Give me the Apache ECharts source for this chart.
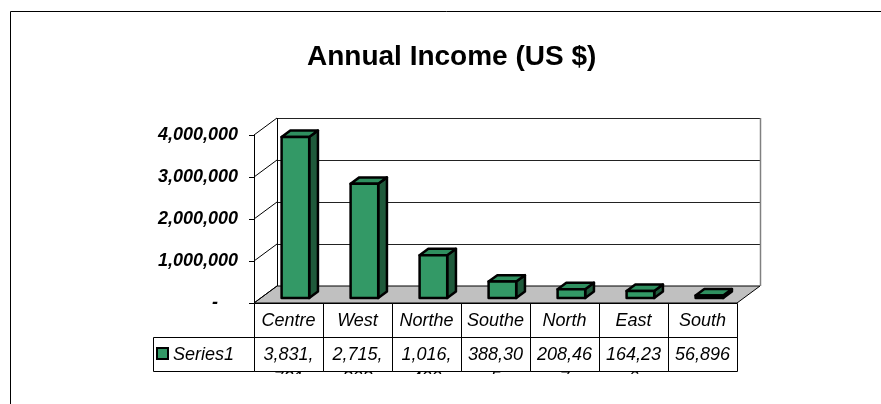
<!DOCTYPE html>
<html>
<head>
<meta charset="utf-8">
<script src="https://cdn.jsdelivr.net/npm/echarts@6/dist/echarts.min.js"></script>
<style>
  html, body { margin: 0; padding: 0; background: #fff; }
  #chart { width: 881px; height: 404px; }
</style>
</head>
<body>
<div id="chart"></div>
<script>
const categories = ['Centre', 'West', 'Northeast', 'Southeast', 'North', 'East', 'South'];
const income = [3831731, 2715808, 1016400, 388305, 208467, 164236, 56896];
const yTicks = [0, 1000000, 2000000, 3000000, 4000000];
const seriesName = 'Series1';

// depth of the 3d box, and where the bars sit inside it
const DX = 23, DY = -17;
const BAR_FRONT = 0.3, BAR_BACK = 0.68, BAR_WIDTH = 0.4;
const ROW = 34;
const FONT = '"Liberation Sans", Arial, sans-serif';
const GREEN = '#339966', GREEN_TOP = '#2f8f5f', GREEN_SIDE = '#1f5a3b';

const chart = echarts.init(document.getElementById('chart'));

function px(v) {
  return Math.round(v) + 0.5;
}

function wallItem(params, api) {
  const cs = params.coordSys;
  const x0 = cs.x, x1 = cs.x + cs.width;
  const y0 = api.coord([0, 0])[1];
  const yTop = api.coord([0, yTicks[yTicks.length - 1]])[1];
  const children = [];
  children.push({
    type: 'polygon',
    shape: { points: [[x0, y0], [x1, y0], [x1 + DX, y0 + DY], [x0 + DX, y0 + DY]] },
    style: { fill: '#c0c0c0', stroke: '#000', lineWidth: 1 }
  });
  yTicks.forEach(t => {
    const y = api.coord([0, t])[1];
    if (t > 0) {
      children.push({
        type: 'line',
        shape: { x1: x0 + DX, y1: px(y + DY), x2: x1 + DX, y2: px(y + DY) },
        style: { stroke: '#222', lineWidth: 1 }
      });
    }
    children.push({
      type: 'line',
      shape: { x1: x0, y1: y, x2: x0 + DX, y2: y + DY },
      style: { stroke: '#000', lineWidth: 1 }
    });
  });
  children.push({
    type: 'line',
    shape: { x1: px(x0 + DX), y1: yTop + DY, x2: px(x0 + DX), y2: y0 + DY },
    style: { stroke: '#000', lineWidth: 1 }
  });
  children.push({
    type: 'line',
    shape: { x1: px(x1 + DX), y1: yTop + DY, x2: px(x1 + DX), y2: y0 + DY },
    style: { stroke: '#808080', lineWidth: 1.5 }
  });
  return { type: 'group', children };
}

function barItem(params, api) {
  const i = api.value(0), v = api.value(1);
  const base = api.coord([i, 0]);
  const top = api.coord([i, v]);
  const w = api.size([1, 0])[0] * BAR_WIDTH;
  const d = BAR_BACK - BAR_FRONT;
  const ddx = DX * d, ddy = DY * d;
  const xl = base[0] - w / 2 + DX * BAR_FRONT, xr = xl + w;
  const yt = top[1] + DY * BAR_FRONT, yb = base[1] + DY * BAR_FRONT;
  const edge = { stroke: '#000', lineWidth: 2.5, lineJoin: 'round' };
  return {
    type: 'group',
    children: [
      { type: 'polygon', shape: { points: [[xr, yt], [xr + ddx, yt + ddy], [xr + ddx, yb + ddy], [xr, yb]] },
        style: Object.assign({ fill: GREEN_SIDE }, edge) },
      { type: 'polygon', shape: { points: [[xl, yt], [xr, yt], [xr + ddx, yt + ddy], [xl + ddx, yt + ddy]] },
        style: Object.assign({ fill: GREEN_TOP }, edge) },
      { type: 'polygon', shape: { points: [[xl, yt], [xr, yt], [xr, yb], [xl, yb]] },
        style: Object.assign({ fill: GREEN }, edge) }
    ]
  };
}

function tableItem(params, api) {
  const i = api.value(0);
  const c = api.coord([i, 0]);
  const w = api.size([1, 0])[0];
  const left = px(c[0] - w / 2), top = px(c[1]);
  const cell = { fill: 'none', stroke: '#000', lineWidth: 1 };
  return {
    type: 'group',
    children: [
      { type: 'rect', shape: { x: left, y: top, width: Math.round(w), height: ROW }, style: cell },
      { type: 'rect', shape: { x: left, y: top + ROW, width: Math.round(w), height: ROW }, style: cell },
      { type: 'text', style: {
          text: categories[i], x: c[0], y: top + ROW / 2, align: 'center', verticalAlign: 'middle',
          fontSize: 18, fontStyle: 'italic', fontFamily: FONT, fill: '#000',
          width: 60, overflow: 'truncate', ellipsis: '' } },
      { type: 'text', style: {
          text: income[i].toLocaleString('en-US'), x: c[0], y: top + ROW + 5, align: 'center', verticalAlign: 'top',
          fontSize: 18, fontStyle: 'italic', fontFamily: FONT, fill: '#000', lineHeight: 24,
          width: 57, overflow: 'breakAll' } }
    ]
  };
}

const barData = categories.map((c, i) => [i, income[i]]);

chart.setOption({
  animation: false,
  backgroundColor: '#fff',
  title: {
    text: 'Annual Income (US $)',
    left: 307,
    top: 43,
    padding: 0,
    textStyle: { fontSize: 28, fontWeight: 'bold', fontFamily: FONT, color: '#000' }
  },
  grid: { left: 254, top: 135, width: 483, height: 168, outerBoundsMode: 'none' },
  xAxis: {
    type: 'category',
    data: categories,
    axisLine: { show: false },
    axisTick: { show: false },
    axisLabel: { show: false },
    splitLine: { show: false }
  },
  yAxis: {
    type: 'value',
    min: 0,
    max: 4000000,
    interval: 1000000,
    axisLine: { show: true, lineStyle: { color: '#000', width: 1 } },
    axisTick: { show: true, length: 5, lineStyle: { color: '#000' } },
    splitLine: { show: false },
    axisLabel: {
      margin: 16,
      color: '#000',
      fontSize: 18,
      fontWeight: 'bold',
      fontStyle: 'italic',
      fontFamily: FONT,
      formatter: v => v === 0 ? '-    ' : v.toLocaleString('en-US')
    }
  },
  graphic: [
    { type: 'rect', z: 0, shape: { x: 10.5, y: 11.5, width: 1000, height: 1000 },
      style: { fill: 'none', stroke: '#000', lineWidth: 1 } },
    { type: 'rect', z: 50, shape: { x: 153.5, y: 337.5, width: 101, height: ROW },
      style: { fill: 'none', stroke: '#000', lineWidth: 1 } },
    { type: 'rect', z: 50, shape: { x: 157, y: 348, width: 11, height: 11 },
      style: { fill: GREEN, stroke: '#000', lineWidth: 2 } },
    { type: 'text', z: 50, style: { text: seriesName, x: 173, y: 355, verticalAlign: 'middle',
      fontSize: 18, fontStyle: 'italic', fontFamily: FONT, fill: '#000' } },
    { type: 'rect', z: 100, shape: { x: 150, y: 374, width: 600, height: 40 },
      style: { fill: '#fff' } }
  ],
  series: [
    { type: 'custom', name: 'walls', z: 1, silent: true, data: [[0, 0]], renderItem: wallItem },
    { type: 'custom', name: seriesName, z: 2, data: barData, renderItem: barItem },
    { type: 'custom', name: 'table', z: 3, silent: true, data: barData, renderItem: tableItem }
  ]
});
</script>
</body>
</html>
